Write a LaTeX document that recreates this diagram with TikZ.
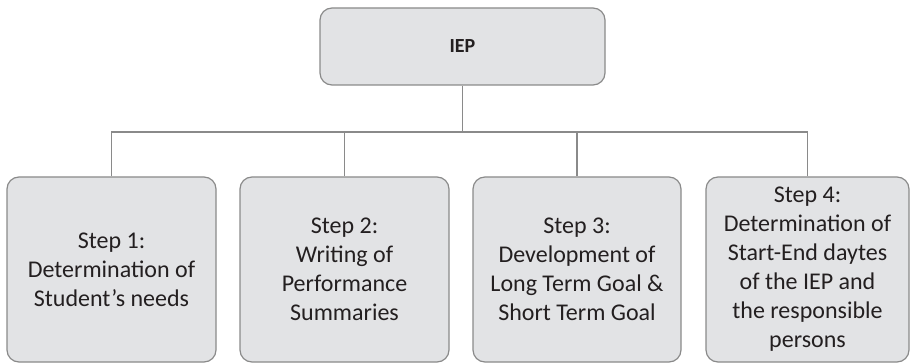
\documentclass[tikz,border=0pt]{standalone}
\usepackage{fontspec}
\setmainfont{Carlito}
\definecolor{boxfill}{HTML}{E2E3E5}
\definecolor{boxline}{HTML}{8A8A8A}
\definecolor{txt}{HTML}{231F20}
\begin{document}
\begin{tikzpicture}[x=1pt,y=-1pt,
  box/.style={draw=boxline, fill=boxfill, rounded corners=12pt, line width=1.2pt,
              align=center, text=txt, inner sep=0pt},
  stepbox/.style={box, minimum height=185pt, font=\fontsize{24}{29}\selectfont},
  conn/.style={draw=boxline, line width=1.2pt}]
\useasboundingbox (0,0) rectangle (910,363);
\node[box, minimum width=285pt, minimum height=77pt,
      font=\fontsize{20}{24}\selectfont\bfseries] (iep) at (462.5,46.5) {IEP};
\node[stepbox, minimum width=209pt] (s1) at (111.5,269.5)
  {Step 1:\\Determination of\\Student’s needs};
\node[stepbox, minimum width=209pt] (s2) at (344.5,269.5)
  {Step 2:\\Writing of\\Performance\\Summaries};
\node[stepbox, minimum width=208pt] (s3) at (577,269.5)
  {Step 3:\\Development of\\Long Term Goal \&\\Short Term Goal};
\node[stepbox, minimum width=203pt] (s4) at (807.5,269.5)
  {Step 4:\\Determination of\\Start-End daytes\\of the IEP and\\the responsible\\persons};
\coordinate (bus) at (462.5,132);
\draw[conn] (iep.south) -- (bus);
\draw[conn] (s1.north) |- (bus);
\draw[conn] (s2.north) |- (bus);
\draw[conn] (s3.north) |- (bus);
\draw[conn] (s4.north) |- (bus);
\end{tikzpicture}
\end{document}
